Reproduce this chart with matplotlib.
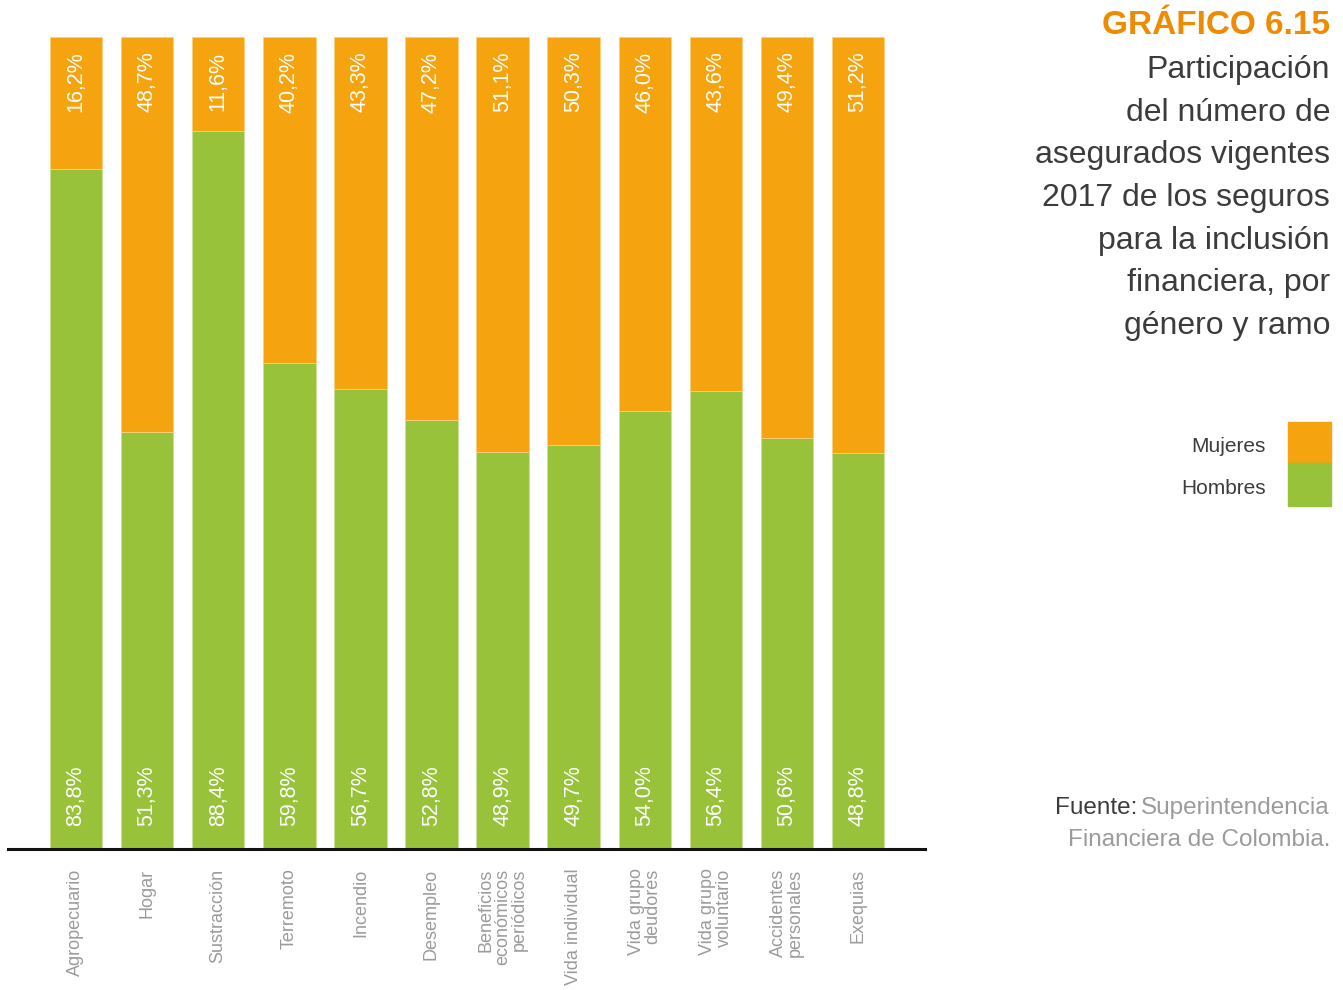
import numpy as np
import matplotlib.pyplot as plt
from matplotlib.patches import Rectangle

plt.rcParams['font.family'] = ['Liberation Sans', 'DejaVu Sans']

# datos
ramos = ['Agropecuario', 'Hogar', 'Sustracción', 'Terremoto', 'Incendio', 'Desempleo',
         'Beneficios\neconómicos\nperiódicos', 'Vida individual', 'Vida grupo\ndeudores',
         'Vida grupo\nvoluntario', 'Accidentes\npersonales', 'Exequias']
hombres = [83.8, 51.3, 88.4, 59.8, 56.7, 52.8, 48.9, 49.7, 54.0, 56.4, 50.6, 48.8]
mujeres = [16.2, 48.7, 11.6, 40.2, 43.3, 47.2, 51.1, 50.3, 46.0, 43.6, 49.4, 51.2]

VERDE = '#97c23a'
NARANJA = '#f5a30f'
TITULO = '#f08a00'
OSCURO = '#3c3c3c'
GRIS = '#9b9b9b'


def pct(v):
    return f"{v:.1f}".replace('.', ',') + '%'


fig = plt.figure(figsize=(13.43, 9.90), dpi=100)
ax = fig.add_axes([0.006, 0.1424, 0.683, 0.8202])

x = np.arange(len(ramos))
ax.bar(x, hombres, width=0.74, color=VERDE, edgecolor='#c9e09a', linewidth=0.6)
ax.bar(x, mujeres, width=0.74, bottom=hombres, color=NARANJA, edgecolor='#f9cf80', linewidth=0.6)

for i in range(len(ramos)):
    ax.text(x[i], 98.2, pct(mujeres[i]), rotation=90, ha='center', va='top',
            color='white', fontsize=15.5)
    ax.text(x[i], 2.8, pct(hombres[i]), rotation=90, ha='center', va='bottom',
            color='white', fontsize=15.5)

ax.set_xlim(-0.955, len(ramos) - 1 + 0.945)
ax.set_ylim(0, 100)
ax.set_yticks([])
ax.set_xticks(x)
ax.set_xticklabels(ramos, rotation=90, color=GRIS, fontsize=13, linespacing=0.95)
for lab in ax.get_xticklabels():
    lab.set_multialignment('right')
ax.tick_params(axis='x', length=0, pad=14)
for s in ['top', 'left', 'right']:
    ax.spines[s].set_visible(False)
ax.spines['bottom'].set_linewidth(2.2)
ax.spines['bottom'].set_color('#111111')

# título
fig.text(1330 / 1343, 1 - 25 / 990, 'GRÁFICO 6.15', ha='right', va='center',
         color=TITULO, fontsize=24, fontweight='bold')
subt = ['Participación', 'del número de', 'asegurados vigentes', '2017 de los seguros',
        'para la inclusión', 'financiera, por', 'género y ramo']
for k, linea in enumerate(subt):
    fig.text(1330 / 1343, 1 - (70 + k * 42.7) / 990, linea, ha='right', va='center',
             color=OSCURO, fontsize=23)

# leyenda
fig.add_artist(Rectangle((1288 / 1343, 1 - 463 / 990), 43 / 1343, 41 / 990,
                         transform=fig.transFigure, color=NARANJA))
fig.add_artist(Rectangle((1288 / 1343, 1 - 506 / 990), 43 / 1343, 43 / 990,
                         transform=fig.transFigure, color=VERDE))
fig.text(1266 / 1343, 1 - 446 / 990, 'Mujeres', ha='right', va='center', color=OSCURO, fontsize=15)
fig.text(1266 / 1343, 1 - 489 / 990, 'Hombres', ha='right', va='center', color=OSCURO, fontsize=15)

# fuente
t2 = fig.text(1330 / 1343, 1 - 808 / 990, 'Superintendencia', ha='right', va='center',
              color=GRIS, fontsize=17.5)
fig.canvas.draw()
bb = t2.get_window_extent()
fig.text(bb.x0 / fig.bbox.width - 0.003, 1 - 808 / 990, 'Fuente:', ha='right', va='center',
         color=OSCURO, fontsize=17.5)
fig.text(1330 / 1343, 1 - 840 / 990, 'Financiera de Colombia.', ha='right', va='center',
         color=GRIS, fontsize=17.5)

fig.savefig('out.png', dpi=100)
